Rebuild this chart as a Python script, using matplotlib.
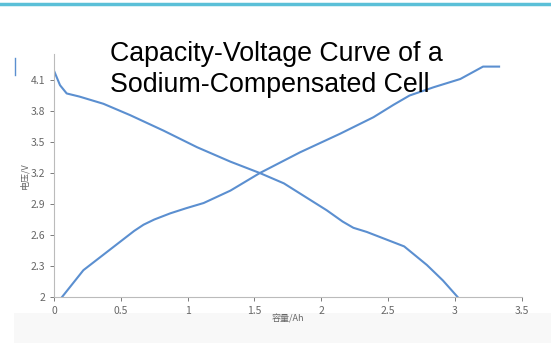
import matplotlib.pyplot as plt
from matplotlib.patches import Rectangle
from matplotlib.lines import Line2D

plt.rcParams['font.family'] = ['Noto Sans CJK SC', 'DejaVu Sans']

# charge curve (voltage rising with capacity)
charge_cap = [0.06, 0.22, 0.49, 0.60, 0.67, 0.75, 0.87, 0.99, 1.12, 1.32, 1.54, 1.84,
              2.14, 2.39, 2.54, 2.66, 2.84, 3.04, 3.21, 3.33]
charge_v = [2.00, 2.26, 2.53, 2.64, 2.70, 2.75, 2.81, 2.86, 2.91, 3.03, 3.20, 3.40,
            3.58, 3.74, 3.86, 3.95, 4.03, 4.11, 4.23, 4.23]

# discharge curve (voltage falling with capacity)
dis_cap = [0.0, 0.045, 0.095, 0.19, 0.37, 0.57, 0.82, 1.07, 1.32, 1.54,
           1.72, 2.04, 2.16, 2.24, 2.34, 2.44, 2.62, 2.79, 2.91, 3.02]
dis_v = [4.19, 4.05, 3.97, 3.94, 3.87, 3.76, 3.61, 3.45, 3.31, 3.20,
         3.10, 2.84, 2.73, 2.67, 2.63, 2.58, 2.49, 2.31, 2.16, 2.00]

xticks = [0, 0.5, 1, 1.5, 2, 2.5, 3, 3.5]
xtick_labels = ['0', '0.5', '1', '1.5', '2', '2.5', '3', '3.5']
yticks = [2, 2.3, 2.6, 2.9, 3.2, 3.5, 3.8, 4.1]
ytick_labels = ['2', '2.3', '2.6', '2.9', '3.2', '3.5', '3.8', '4.1']

fig = plt.figure(figsize=(5.51, 3.43), dpi=100)

# decorations from the screenshot
fig.add_artist(Line2D([0, 1], [0.988, 0.988], color='#5bc0d8', lw=2.5))
fig.add_artist(Rectangle((0.025, 0), 0.975, 0.088, color='#f8f8f8', lw=0, zorder=-5))
fig.add_artist(Line2D([0.027, 0.027], [0.78, 0.83], color='#5b8fd0', lw=1))

ax = fig.add_axes([0.098, 0.134, 0.849, 0.708])
ax.plot(charge_cap, charge_v, color='#5b8fd0', lw=1.5)
ax.plot(dis_cap, dis_v, color='#5b8fd0', lw=1.5)

ax.set_xlim(0, 3.5)
ax.set_ylim(2, 4.35)
ax.set_xticks(xticks)
ax.set_xticklabels(xtick_labels)
ax.set_yticks(yticks)
ax.set_yticklabels(ytick_labels)
ax.tick_params(labelsize=7.5, colors='#666666', length=3, width=0.6)
for s in ['top', 'right']:
    ax.spines[s].set_visible(False)
for s in ['left', 'bottom']:
    ax.spines[s].set_color('#bbbbbb')
    ax.spines[s].set_linewidth(0.8)

ax.set_xlabel('容量/Ah', fontsize=6.5, color='#666666', labelpad=-1)
ax.set_ylabel('电压/V', fontsize=6.5, color='#666666', labelpad=1)

fig.text(0.2, 0.797, 'Capacity-Voltage Curve of a\nSodium-Compensated Cell',
         ha='left', va='center', fontsize=19.3, family='Liberation Sans',
         linespacing=1.25, color='black')

fig.savefig('out.png', dpi=100)
